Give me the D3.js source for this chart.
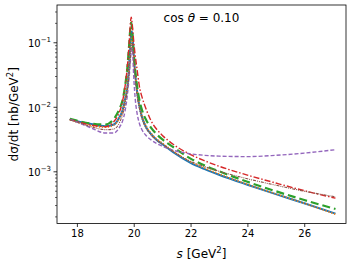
<!DOCTYPE html>
<html>
<head>
<meta charset="utf-8">
<script src="https://cdn.jsdelivr.net/npm/d3@7"></script>
<style>
  body { margin: 0; background: #fff; }
  text { font-family: "DejaVu Sans", sans-serif; fill: #000; }
</style>
</head>
<body>
<div id="chart"></div>
<script>
// energies s [GeV^2] shared by all curves
var sVals = [17.75, 18.0, 18.5, 19.0, 19.3, 19.5, 19.6, 19.7, 19.78, 19.84, 19.88, 19.91, 19.94, 19.97, 20.0,
  20.05, 20.12, 20.2, 20.3, 20.45, 20.6, 20.8, 21.0, 21.4, 22.0, 22.5, 23.0, 24.0, 25.0, 26.0, 27.1];

var blueVals = [6.5e-3, 6.1e-3, 5.5e-3, 5.1e-3, 5.4e-3, 7.0e-3, 8.8e-3, 1.36e-2, 2.1e-2, 4.6e-2, 9.0e-2, 0.135, 0.15, 0.105, 0.066,
  0.034, 1.75e-2, 1.05e-2, 6.9e-3, 4.8e-3, 3.9e-3, 3.15e-3, 2.7e-3, 2.0e-3, 1.38e-3, 1.1e-3, 9.0e-4, 6.3e-4, 4.5e-4, 3.25e-4, 2.25e-4];
var orangeVals = [6.4e-3, 5.9e-3, 5.2e-3, 4.9e-3, 5.3e-3, 6.8e-3, 8.5e-3, 1.35e-2, 2.3e-2, 4.5e-2, 8.0e-2, 0.115, 0.13, 0.10, 0.065,
  0.036, 1.8e-2, 1.1e-2, 7.2e-3, 5.0e-3, 4.0e-3, 3.25e-3, 2.8e-3, 2.07e-3, 1.43e-3, 1.14e-3, 9.3e-4, 6.4e-4, 4.55e-4, 3.25e-4, 2.2e-4];
var greenVals = [6.6e-3, 6.2e-3, 5.6e-3, 5.4e-3, 6.6e-3, 9.5e-3, 1.25e-2, 2.2e-2, 4.3e-2, 9.5e-2, 0.164, 0.205, 0.17, 0.105, 0.07,
  0.038, 2.1e-2, 1.3e-2, 8.8e-3, 6.2e-3, 4.9e-3, 3.85e-3, 3.2e-3, 2.4e-3, 1.6e-3, 1.25e-3, 1.02e-3, 7.0e-4, 5.0e-4, 3.65e-4, 2.65e-4];
var redVals = [6.5e-3, 6.0e-3, 5.3e-3, 5.0e-3, 6.0e-3, 8.5e-3, 1.2e-2, 2.2e-2, 4.5e-2, 0.10, 0.19, 0.25, 0.21, 0.15, 0.105,
  0.065, 0.038, 2.1e-2, 1.4e-2, 9.0e-3, 6.3e-3, 4.6e-3, 3.7e-3, 2.65e-3, 1.85e-3, 1.48e-3, 1.22e-3, 8.9e-4, 6.7e-4, 5.1e-4, 3.9e-4];
var purpleVals = [6.5e-3, 5.9e-3, 4.8e-3, 4.0e-3, 4.0e-3, 4.9e-3, 6.0e-3, 9.0e-3, 1.6e-2, 3.0e-2, 5.0e-2, 7.2e-2, 0.082, 0.06, 0.03,
  1.4e-2, 8.0e-3, 5.6e-3, 4.4e-3, 3.6e-3, 3.15e-3, 2.75e-3, 2.5e-3, 2.15e-3, 1.9e-3, 1.8e-3, 1.75e-3, 1.72e-3, 1.8e-3, 1.95e-3, 2.2e-3];
var brownVals = [6.4e-3, 5.9e-3, 5.0e-3, 4.5e-3, 4.6e-3, 5.8e-3, 7.5e-3, 1.15e-2, 1.9e-2, 3.4e-2, 5.6e-2, 8.5e-2, 0.10, 0.085, 0.056,
  0.03, 1.5e-2, 9.5e-3, 6.4e-3, 4.6e-3, 3.75e-3, 3.1e-3, 2.7e-3, 2.05e-3, 1.45e-3, 1.2e-3, 1.02e-3, 7.8e-4, 6.2e-4, 5.0e-4, 4.1e-4];

var xTicks = [18, 20, 22, 24, 26];
var yTicks = [1e-3, 1e-2, 1e-1];
var yTickExp = ["\u22123", "\u22122", "\u22121"];

var width = 355, height = 265;
var mLeft = 57, mRight = 346, mTop = 5, mBottom = 223.5;

var svg = d3.select("#chart").append("svg")
  .attr("width", width)
  .attr("height", height);

var x = d3.scaleLinear().domain([17.3, 27.47]).range([mLeft, mRight]);
var y = d3.scaleLog().domain([1.58e-4, 0.385]).range([mBottom, mTop]);

svg.append("clipPath").attr("id", "clip")
  .append("rect").attr("x", mLeft).attr("y", mTop).attr("width", mRight - mLeft).attr("height", mBottom - mTop);

var series = [
  { vals: blueVals, color: "#1f77b4", w: 2, dash: null },
  { vals: orangeVals, color: "#ff7f0e", w: 1.6, dash: "1.2,1.8" },
  { vals: greenVals, color: "#2ca02c", w: 2.2, dash: "8,4" },
  { vals: redVals, color: "#d62728", w: 1.4, dash: "6,2,1.5,2" },
  { vals: purpleVals, color: "#9467bd", w: 1.4, dash: "4,2" },
  { vals: brownVals, color: "#8c564b", w: 1.1, dash: "3,1,1,1,1,1" }
];

var line = d3.line()
  .x(function(d) { return x(d[0]); })
  .y(function(d) { return y(d[1]); })
  .curve(d3.curveMonotoneX);

var g = svg.append("g").attr("clip-path", "url(#clip)");
series.forEach(function(sr) {
  g.append("path")
    .datum(sVals.map(function(s, i) { return [s, sr.vals[i]]; }))
    .attr("d", line)
    .attr("fill", "none")
    .attr("stroke", sr.color)
    .attr("stroke-width", sr.w)
    .attr("stroke-dasharray", sr.dash);
});

// x axis
var xaxis = d3.axisBottom(x).tickValues(xTicks).tickSize(3.5).tickPadding(3).tickFormat(d3.format("d"));
var gx = svg.append("g")
  .attr("transform", "translate(0," + mBottom + ")")
  .call(xaxis);
gx.select(".domain").remove();
gx.selectAll("line").attr("stroke-width", 0.8);
gx.selectAll("text").style("font-family", "DejaVu Sans").style("font-size", "10px");

// y axis: major + minor ticks
var minor = [];
[-4, -3, -2, -1].forEach(function(e) {
  for (var k = 2; k <= 9; k++) {
    var v = k * Math.pow(10, e);
    if (v >= y.domain()[0] && v <= y.domain()[1]) minor.push(v);
  }
});
var gy = svg.append("g");
gy.selectAll(".minor").data(minor).enter().append("line")
  .attr("x1", mLeft - 2).attr("x2", mLeft)
  .attr("y1", function(d) { return y(d); }).attr("y2", function(d) { return y(d); })
  .attr("stroke", "#000").attr("stroke-width", 0.6);
gy.selectAll(".major").data(yTicks).enter().append("line")
  .attr("x1", mLeft - 3.5).attr("x2", mLeft)
  .attr("y1", function(d) { return y(d); }).attr("y2", function(d) { return y(d); })
  .attr("stroke", "#000").attr("stroke-width", 0.8);
var ylab = gy.selectAll(".ylab").data(yTicks).enter().append("text")
  .attr("x", mLeft - 6)
  .attr("y", function(d) { return y(d) + 4.5; })
  .attr("text-anchor", "end")
  .style("font-size", "10px");
ylab.append("tspan").text("10");
ylab.append("tspan").attr("dy", -5).style("font-size", "7px")
  .text(function(d, i) { return yTickExp[i]; });

// frame
svg.append("rect")
  .attr("x", mLeft).attr("y", mTop).attr("width", mRight - mLeft).attr("height", mBottom - mTop)
  .attr("fill", "none").attr("stroke", "#000").attr("stroke-width", 0.8);

// title inside the plot
var title = svg.append("text")
  .attr("x", (mLeft + mRight) / 2).attr("y", 21.5)
  .attr("text-anchor", "middle")
  .style("font-size", "12px");
title.append("tspan").text("cos ");
title.append("tspan").style("font-style", "italic").text("\u03b8");
title.append("tspan").text(" = 0.10");

// axis labels
var xl = svg.append("text")
  .attr("x", (mLeft + mRight) / 2).attr("y", 257.5)
  .attr("text-anchor", "middle")
  .style("font-size", "12px");
xl.append("tspan").style("font-style", "italic").text("s");
xl.append("tspan").text(" [GeV");
xl.append("tspan").attr("dy", -4.5).style("font-size", "8.5px").text("2");
xl.append("tspan").attr("dy", 4.5).text("]");

var yl = svg.append("text")
  .attr("transform", "translate(17.5," + ((mTop + mBottom) / 2) + ") rotate(-90)")
  .attr("text-anchor", "middle")
  .style("font-size", "12px");
yl.append("tspan").text("d\u03c3/dt [nb/GeV");
yl.append("tspan").attr("dy", -4.5).style("font-size", "8.5px").text("2");
yl.append("tspan").attr("dy", 4.5).text("]");
</script>
</body>
</html>
